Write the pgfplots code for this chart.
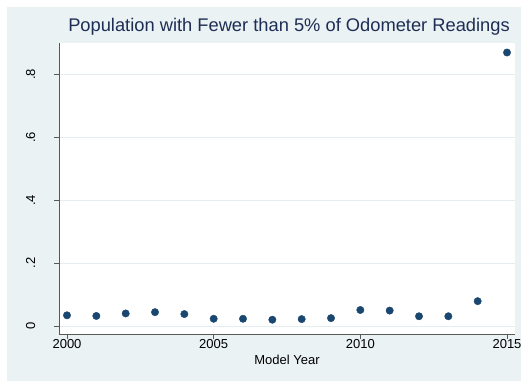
\documentclass[border=0pt]{standalone}
\usepackage{fontspec}
\setmainfont{Liberation Sans}
\usepackage{pgfplots}
\pgfplotsset{compat=1.18}
\definecolor{stbg}{RGB}{234,242,243}
\definecolor{stgrid}{RGB}{228,238,240}
\definecolor{stnavy}{RGB}{26,71,111}
\definecolor{sttitle}{RGB}{30,45,85}
\begin{document}
\begin{tikzpicture}[x=1bp,y=1bp]
% image frame: 521 x 381, axis SW corner at pixel (59,334.3)
\path[use as bounding box] (-59,-46.7) rectangle (462,334.3);
\fill[stbg] (-52,-46.7) rectangle (462,327.3);
\begin{axis}[
    at={(0,0)}, anchor=south west,
    scale only axis,
    width=456bp, height=291bp,
    xmin=1999.727, xmax=2015.273,
    ymin=-0.0264, ymax=0.8993,
    axis lines*=left,
    axis line style={black!65, line width=0.8pt},
    axis background/.style={fill=white},
    tick align=outside,
    major tick length=5bp,
    tick style={black!65, line width=0.8pt},
    xtick={2000,2005,2010,2015},
    xticklabels={2000,2005,2010,2015},
    ytick={0,0.2,0.4,0.6,0.8},
    yticklabels={0,.2,.4,.6,.8},
    ymajorgrids,
    grid style={stgrid, line width=0.8pt},
    tick label style={font=\fontsize{13bp}{15bp}\selectfont, black},
    yticklabel style={xshift=-4bp, rotate=90, anchor=base},
    yticklabel shift=15bp,
    xticklabel style={anchor=base},
    xticklabel shift=9bp,
    xlabel={Model Year},
    xlabel style={font=\fontsize{13bp}{15bp}\selectfont, black, anchor=base, at={(0.5,0)}, yshift=-30bp},
    title={Population with Fewer than 5\% of Odometer Readings},
    title style={font=\fontsize{18.3bp}{21bp}\selectfont, sttitle, anchor=base, at={(0.5,1)}, yshift=5.6bp, xshift=2bp},
    clip=false,
]
\addplot[only marks, mark=*, mark size=3.7bp, mark options={fill=stnavy, draw=stnavy}] coordinates {
    (2000, 0.034)
    (2001, 0.032)
    (2002, 0.040)
    (2003, 0.044)
    (2004, 0.038)
    (2005, 0.023)
    (2006, 0.023)
    (2007, 0.020)
    (2008, 0.022)
    (2009, 0.025)
    (2010, 0.051)
    (2011, 0.049)
    (2012, 0.031)
    (2013, 0.031)
    (2014, 0.079)
    (2015, 0.870)
};
\end{axis}
\end{tikzpicture}
\end{document}
